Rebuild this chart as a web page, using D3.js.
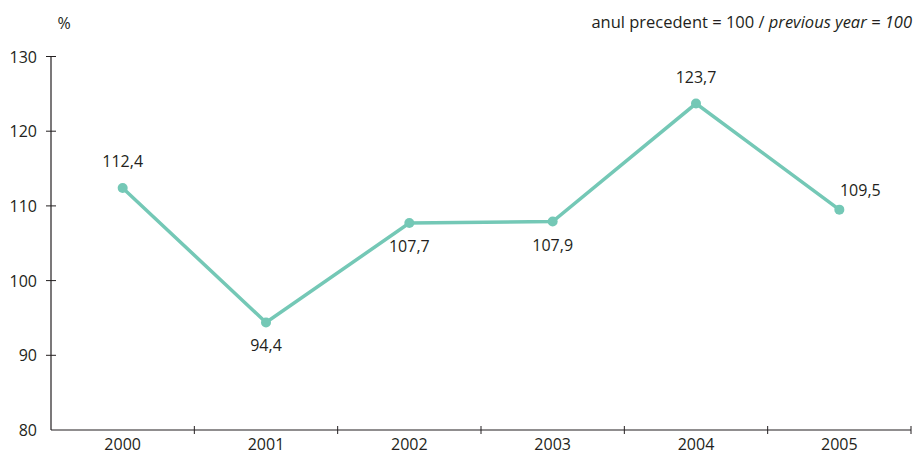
<!DOCTYPE html>
<html><head><meta charset="utf-8">
<script src="https://cdn.jsdelivr.net/npm/d3@7"></script>
<style>body{margin:0;background:#fff}text{font-family:"Open Sans",sans-serif;fill:#231f20}</style>
</head><body><svg id="c" width="918" height="454"></svg>
<script>
const years = ["2000","2001","2002","2003","2004","2005"];
const values = [112.4, 94.4, 107.7, 107.9, 123.7, 109.5];
const labels = ["112,4","94,4","107,7","107,9","123,7","109,5"];
const yTicks = [80, 90, 100, 110, 120, 130];

const svg = d3.select("#c");
const x = d3.scaleBand().domain(years).range([51, 911]);
const y = d3.scaleLinear().domain([80, 130]).range([430, 56.5]);
const stroke = "#231f20";
const col = "#74c8b6";
const fs = 16;

svg.append("line").attr("x1",51).attr("x2",51).attr("y1",y(130)).attr("y2",y(80)).attr("stroke",stroke).attr("stroke-width",1.2);
yTicks.forEach(t=>{
  if(t>80) svg.append("line").attr("x1",46).attr("x2",56).attr("y1",y(t)).attr("y2",y(t)).attr("stroke",stroke).attr("stroke-width",1);
  svg.append("text").attr("x",37).attr("y",y(t)+6).attr("text-anchor","end").attr("font-size",fs).text(t);
});
svg.append("line").attr("x1",51).attr("x2",911).attr("y1",430).attr("y2",430).attr("stroke",stroke).attr("stroke-width",1.2);
years.forEach((yr,i)=>{
  const b = x(yr)+x.bandwidth();
  svg.append("line").attr("x1",b).attr("x2",b).attr("y1",426).attr("y2",434).attr("stroke",stroke).attr("stroke-width",1);
  svg.append("text").attr("x",x(yr)+x.bandwidth()/2).attr("y",450).attr("text-anchor","middle").attr("font-size",fs).text(yr);
});

const cx = d => x(d)+x.bandwidth()/2;
const line = d3.line().x((d,i)=>cx(years[i])).y(d=>y(d));
svg.append("path").datum(values).attr("d",line).attr("fill","none").attr("stroke",col).attr("stroke-width",3.5);
svg.selectAll("circle.p").data(values).enter().append("circle")
  .attr("cx",(d,i)=>cx(years[i])).attr("cy",d=>y(d)).attr("r",5).attr("fill",col);

const off = [[0,-21],[0,29],[0,29],[0,29],[0,-21],[21,-14]];
labels.forEach((l,i)=>{
  svg.append("text").attr("x",cx(years[i])+off[i][0]).attr("y",y(values[i])+off[i][1])
    .attr("text-anchor","middle").attr("font-size",fs).text(l);
});

svg.append("text").attr("x",64).attr("y",29).attr("text-anchor","middle").attr("font-size",fs).text("%");
const t = svg.append("text").attr("x",912).attr("y",28).attr("text-anchor","end").attr("font-size",16.5);
t.append("tspan").text("anul precedent = 100 / ");
t.append("tspan").attr("font-style","italic").text("previous year = 100");
</script></body></html>
